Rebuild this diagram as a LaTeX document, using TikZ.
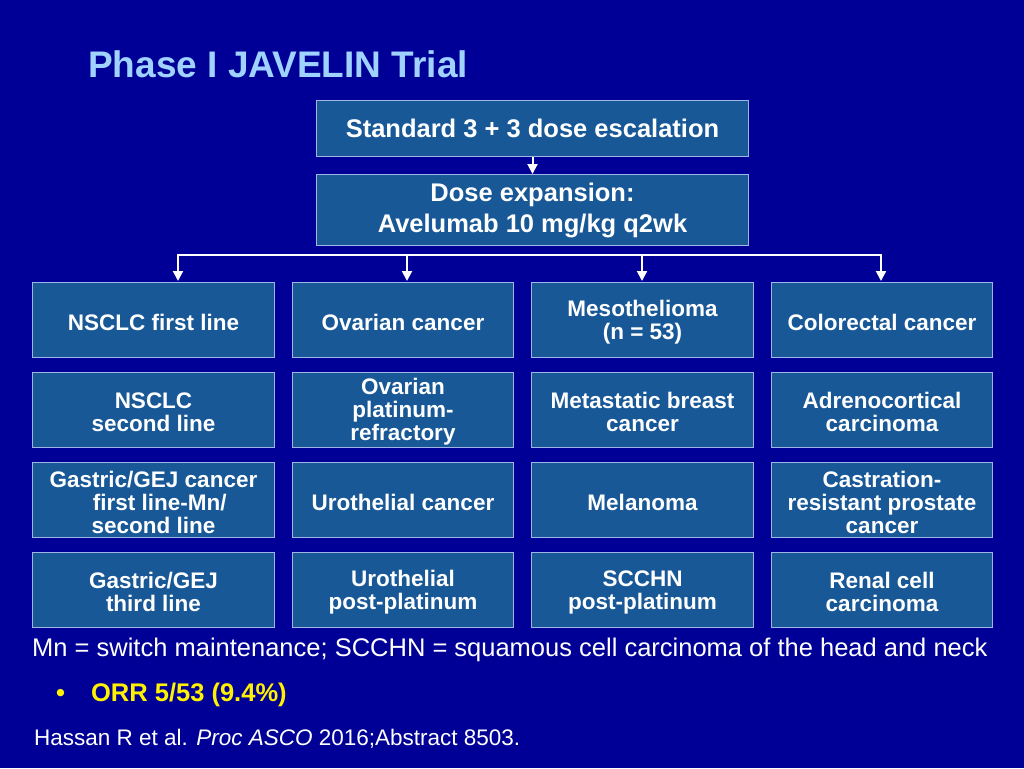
\documentclass[tikz,border=0pt]{standalone}
\usepackage{fontspec}
\setmainfont{Liberation Sans}
\usetikzlibrary{arrows.meta}
\definecolor{bg}{RGB}{0,0,150}
\definecolor{boxf}{RGB}{24,88,150}
\definecolor{boxd}{RGB}{160,180,230}
\definecolor{ttl}{RGB}{160,210,255}
\begin{document}
\begin{tikzpicture}[x=1pt,y=-1pt,
  bx/.style={draw=boxd,line width=1pt,fill=boxf,text=white,font=\bfseries\fontsize{25.5}{31}\selectfont,align=center,inner sep=0pt,anchor=north west},
  ar/.style={draw=white,line width=2pt,-{Triangle[length=10pt,width=10pt]}}]
\fill[bg] (0,0) rectangle (1024,768);
\useasboundingbox (0,0) rectangle (1024,768);
\node[anchor=west,text=ttl,font=\bfseries\fontsize{37}{40}\selectfont,inner sep=0pt] (t) at (88,64) {Phase I JAVELIN Trial};
\node[bx,minimum width=432pt,minimum height=56pt] (a) at (316,100) {Standard 3 + 3 dose escalation};
\node[bx,minimum width=432pt,minimum height=71pt] (b) at (316,174) {Dose expansion:\\Avelumab 10 mg/kg q2wk};
\draw[ar] (a.south) -- (b.north);
\def\cx{{32,292,531,771}}
\def\cw{{242,221,222,221}}
\foreach \r/\y in {1/282,2/372,3/462,4/552}{
  \foreach \c in {0,1,2,3}{
    \pgfmathsetmacro\xx{\cx[\c]}\pgfmathsetmacro\ww{\cw[\c]}
    \node[bx,minimum width=\ww pt,minimum height=75pt] (n\r\c) at (\xx,\y) {};
  }}
\foreach \r/\c/\t in {1/0/{NSCLC first line},1/1/{Ovarian cancer},1/2/{Mesothelioma\\(n = 53)},1/3/{Colorectal cancer},
 2/0/{NSCLC\\second line},2/1/{Ovarian\\platinum-\\refractory},2/2/{Metastatic breast\\cancer},2/3/{Adrenocortical\\carcinoma},
 3/0/{Gastric/GEJ cancer\\\ \ first line-Mn/\\second line},3/1/{Urothelial cancer},3/2/{Melanoma},3/3/{Castration-\\resistant prostate\\cancer},
 4/0/{Gastric/GEJ\\third line},4/1/{Urothelial\\post-platinum},4/2/{SCCHN\\post-platinum},4/3/{Renal cell\\carcinoma}}
 \node[text=white,font=\bfseries\fontsize{22.5}{23}\selectfont,align=center,inner sep=0pt] at ([yshift=-2pt]n\r\c.center) {\t};
\draw[white,line width=2pt] (178,255) -- (881,255);
\foreach \c/\x in {0/178,1/407,2/642,3/881}
  \draw[ar] (\x,254) -- (\x,281);
\node[anchor=west,text=white,font=\fontsize{25.5}{28}\selectfont,inner sep=0pt] (f) at (32,650) {Mn = switch maintenance; SCCHN = squamous cell carcinoma of the head and neck};
\node[anchor=west,text=yellow,font=\bfseries\fontsize{25.5}{28}\selectfont,inner sep=0pt] (o) at (56,695) {\textbullet\hspace{26pt}ORR 5/53 (9.4\%)};
\node[anchor=west,text=white,font=\fontsize{22.5}{25}\selectfont,inner sep=0pt] (c) at (34,739) {Hassan R et al. \textit{Proc ASCO} 2016;Abstract 8503.};
\end{tikzpicture}
\end{document}
